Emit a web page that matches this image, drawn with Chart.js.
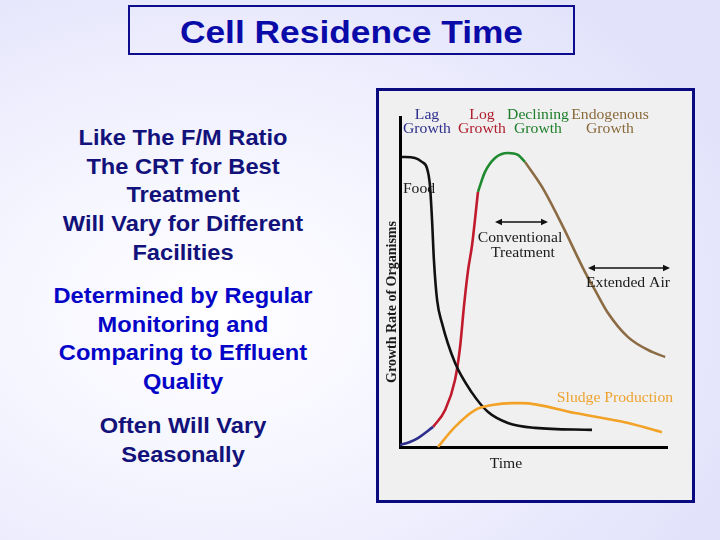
<!DOCTYPE html>
<html>
<head>
<meta charset="utf-8">
<title>Cell Residence Time</title>
<script src="https://cdn.jsdelivr.net/npm/chart.js@4.4.0/dist/chart.umd.min.js"></script>
<style>
  html, body { margin: 0; padding: 0; }
  body {
    width: 720px; height: 540px; overflow: hidden; position: relative;
    background: radial-gradient(ellipse 78% 75% at 30% 58%, #ffffff 0%, #f5f5ff 40%, #e2e2fb 100%);
    font-family: "Liberation Sans", Arial, sans-serif;
  }
  #title-box {
    position: absolute; left: 128px; top: 5px; width: 443px; height: 46px;
    border: 2px solid #0c0c8c;
  }
  #title-box span {
    position: absolute; left: 0; right: 0; top: 7px; text-align: center;
    font-size: 31px; font-weight: bold; color: #0a0aa8; line-height: 38px;
    transform: scaleX(1.14); transform-origin: center;
  }
  .para {
    position: absolute; left: 0; width: 366px; text-align: center;
    font-size: 21.5px; font-weight: bold; line-height: 28.7px;
    transform: scaleX(1.1); transform-origin: center;
  }
  .dark { color: #12127a; }
  .blue { color: #0505c8; }
  #panel {
    position: absolute; left: 376px; top: 88px; width: 313px; height: 409px;
    border: 3px solid #0a0a80; background: #f0f0f0;
  }
  #wrap { position: absolute; left: 0; top: 0; width: 720px; height: 540px; pointer-events: none; }
</style>
</head>
<body>
<div id="title-box"><span>Cell Residence Time</span></div>

<div class="para dark" style="top:124px">Like The F/M Ratio<br>The CRT for Best<br>Treatment<br>Will Vary for Different<br>Facilities</div>
<div class="para blue" style="top:282px">Determined by Regular<br>Monitoring and<br>Comparing to Effluent<br>Quality</div>
<div class="para dark" style="top:412px">Often Will Vary<br>Seasonally</div>

<div id="panel"></div>
<div id="wrap"><canvas id="crt-chart"></canvas></div>

<script>
/* ── Curve data (time, relative growth rate) ── */
const FOOD_T = [0.75, 5.6, 8.2, 10.1, 11.2, 12.0, 12.7, 13.9, 15.7, 20.6, 27.0, 33.0, 40.4, 50.6, 71.9];
const FOOD_V = [87.9, 87.6, 86.4, 84.5, 79.4, 68.8, 56.7, 44.5, 37.6, 25.5, 16.4, 10.6, 7.3, 5.8, 5.2];

const LAG_T = [0, 3.7, 6.7, 12.4];
const LAG_V = [0.6, 1.5, 2.7, 6.1];

const LOG_T = [12.4, 16.9, 20.6, 22.5, 24.0, 25.5, 27.0, 29.2];
const LOG_V = [6.1, 11.2, 20.3, 30.3, 43.0, 53.6, 61.2, 77.3];

const DECL_T = [29.2, 31.8, 35.6, 40.4, 44.2, 46.8];
const DECL_V = [77.3, 83.3, 87.6, 89.1, 88.5, 86.4];

const ENDO_T = [46.8, 53.2, 60.7, 69.3, 73.0, 77.9, 85.4, 94.4, 99.3];
const ENDO_V = [86.4, 78.8, 67.3, 53.0, 47.6, 40.6, 33.3, 28.8, 27.3];

const SLUDGE_T = [14.2, 20.6, 28.1, 34.5, 41.9, 45.7, 65.5, 85.4, 98.1];
const SLUDGE_V = [0, 6.1, 11.2, 12.7, 13.3, 13.3, 10.3, 7.3, 4.5];

/* ── Colours ── */
const C_FOOD   = '#111111';
const C_LAG    = '#2e2e8e';
const C_LOG    = '#c01a2c';
const C_DECL   = '#1f8a2f';
const C_ENDO   = '#8b6b43';
const C_SLUDGE = '#f2a227';

function pts(ts, vs) {
  return ts.map((t, i) => ({ x: t, y: vs[i] }));
}

function curve(label, ts, vs, color) {
  return {
    label,
    data:                   pts(ts, vs),
    borderColor:            color,
    borderWidth:            2.6,
    pointRadius:            0,
    fill:                   false,
    cubicInterpolationMode: 'monotone',
    clip:                   false,
  };
}

/* ── Annotation text + arrows (page pixels) ── */
const SERIF = '"Liberation Serif", "Times New Roman", serif';
const NOTES = [
  ['Lag',               427, 119, C_LAG],
  ['Growth',            427, 133, C_LAG],
  ['Log',               482, 119, '#b01c2c'],
  ['Growth',            482, 133, '#b01c2c'],
  ['Declining',         538, 119, '#1e7e2a'],
  ['Growth',            538, 133, '#1e7e2a'],
  ['Endogenous',        610, 119, '#8a6a3c'],
  ['Growth',            610, 133, '#8a6a3c'],
  ['Food',              419, 193, '#1a1a1a'],
  ['Conventional',      520, 242, '#1a1a1a'],
  ['Treatment',         523, 257, '#1a1a1a'],
  ['Extended Air',      628, 287, '#1a1a1a'],
  ['Sludge Production', 615, 402, '#eea230'],
  ['Time',              506, 468, '#1a1a1a'],
];
const ARROWS = [
  [495, 548, 222],
  [588, 670, 268],
];

function arrowHead(ctx, x, y, dir) {
  ctx.beginPath();
  ctx.moveTo(x, y);
  ctx.lineTo(x - dir * 7, y - 3.2);
  ctx.lineTo(x - dir * 7, y + 3.2);
  ctx.closePath();
  ctx.fill();
}

const notesPlugin = {
  id: 'notes',
  afterDraw(chart) {
    const { ctx } = chart;
    ctx.save();
    ctx.textAlign    = 'center';
    ctx.textBaseline = 'alphabetic';
    ctx.font         = '14px ' + SERIF;
    NOTES.forEach(([text, x, y, color]) => {
      ctx.save();
      ctx.translate(x, y);
      ctx.scale(1.12, 1);
      ctx.fillStyle = color;
      ctx.fillText(text, 0, 0);
      ctx.restore();
    });

    ctx.strokeStyle = '#111';
    ctx.fillStyle   = '#111';
    ctx.lineWidth   = 1.5;
    ARROWS.forEach(([x1, x2, y]) => {
      ctx.beginPath();
      ctx.moveTo(x1 + 3, y);
      ctx.lineTo(x2 - 3, y);
      ctx.stroke();
      arrowHead(ctx, x1, y, -1);
      arrowHead(ctx, x2, y, 1);
    });

    /* y-axis title */
    ctx.translate(392, 302);
    ctx.rotate(-Math.PI / 2);
    ctx.textBaseline = 'middle';
    ctx.fillStyle    = '#1a1a1a';
    ctx.font         = 'bold 14px ' + SERIF;
    ctx.fillText('Growth Rate of Organisms', 0, 0);
    ctx.restore();
  },
};

const hiddenAxis = {
  type:   'linear',
  min:    0,
  max:    100,
  grid:   { display: false },
  ticks:  { display: false },
  border: { display: true, color: '#000', width: 3 },
};

new Chart(document.getElementById('crt-chart'), {
  type: 'line',
  plugins: [notesPlugin],
  data: {
    datasets: [
      curve('Sludge Production',  SLUDGE_T, SLUDGE_V, C_SLUDGE),
      curve('Food',               FOOD_T,   FOOD_V,   C_FOOD),
      curve('Lag Growth',         LAG_T,    LAG_V,    C_LAG),
      curve('Log Growth',         LOG_T,    LOG_V,    C_LOG),
      curve('Declining Growth',   DECL_T,   DECL_V,   C_DECL),
      curve('Endogenous Growth',  ENDO_T,   ENDO_V,   C_ENDO),
    ],
  },
  options: {
    responsive:          true,
    maintainAspectRatio: false,
    animation:           false,
    layout: { padding: { left: 400, right: 53, top: 117, bottom: 93 } },
    plugins: {
      legend:  { display: false },
      tooltip: { enabled: false },
    },
    scales: {
      x: { ...hiddenAxis, afterFit: s => { s.height = 0; } },
      y: { ...hiddenAxis, afterFit: s => { s.width = 0; } },
    },
  },
});
</script>
</body>
</html>
